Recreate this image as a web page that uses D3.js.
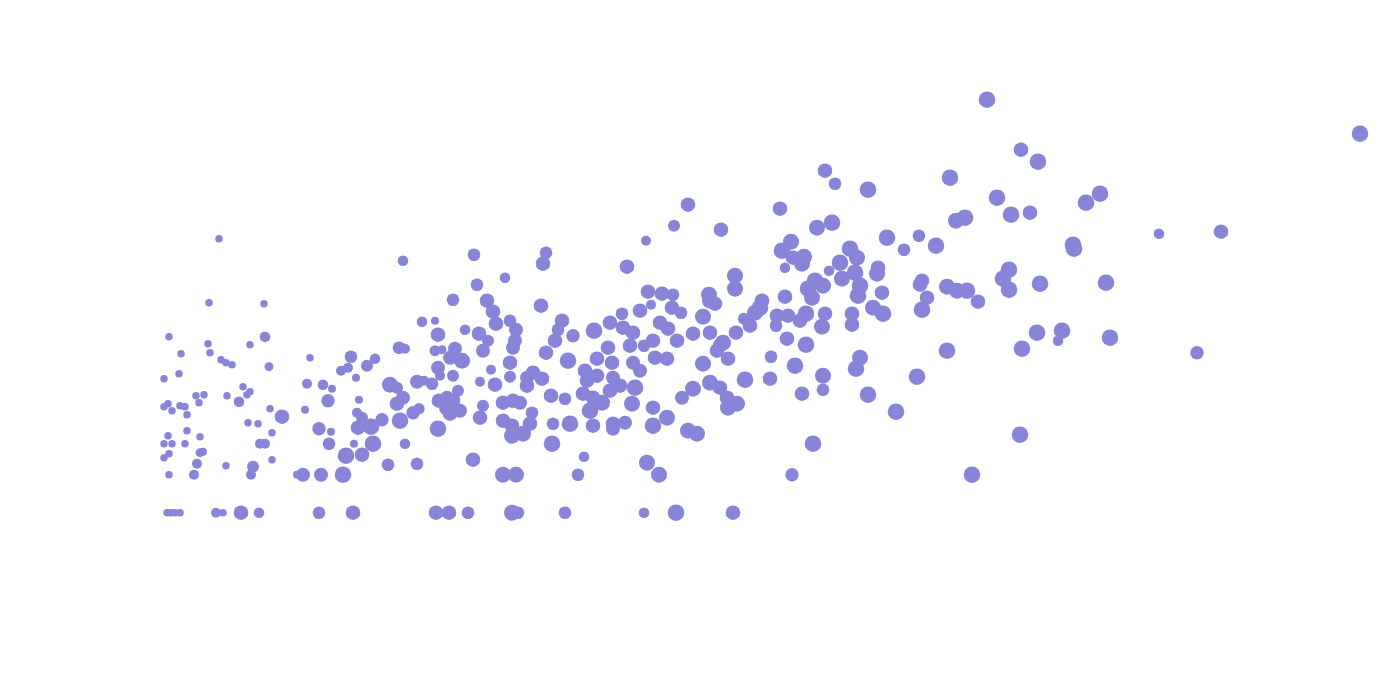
<!DOCTYPE html>
<html>
<head>
<meta charset="utf-8">
<script src="https://cdn.jsdelivr.net/npm/d3@7"></script>
<style>
html,body{margin:0;padding:0;background:#fff;}
svg{display:block;}
</style>
</head>
<body>
<svg id="chart" width="1400" height="700"></svg>
<script>
// Each point: [x value, y value, size value]
const groupA = [
[5.9,27.4,14],[4.9,21.0,14],[10.4,20.9,14],[0.9,17.6,14],[2.1,15.9,14],[4.8,16.9,14],[5.0,16.0,14],
[10.5,17.6,28],[9.0,16.8,14],[6.1,15.3,14],[6.6,15.0,14],[7.2,14.8,14],[10.9,14.6,20],[0.4,13.4,14],
[1.9,13.9,14],[3.6,11.7,14],[4.4,11.8,14],[3.9,11.0,14],[0.4,10.6,14],[0.8,10.9,14],[1.2,10.2,14],
[2.0,10.7,14],[2.5,10.6,14],[2.7,9.8,14],[6.7,11.7,14],[8.3,12.6,14],[9.0,12.1,14],[8.7,11.8,14],
[7.9,11.1,28],[11.0,10.4,14],[12.2,9.6,53],[8.8,9.0,14],[9.8,8.9,14],[11.2,8.0,14],[0.8,7.7,14],
[2.7,8.2,14],[4.0,7.6,14],[0.4,6.9,14],[1.2,6.9,14],[2.5,6.9,14],[10.0,6.9,25],[10.5,6.9,25],
[0.4,5.5,14],[0.9,5.9,14],[4.0,6.0,20],[4.3,6.1,16],[3.7,4.9,25],[6.6,4.7,14],[9.3,4.6,36],
[9.1,3.8,25],[11.2,5.3,14],[0.9,3.8,14],[3.4,3.8,25],[13.7,3.8,16],[14.3,3.8,49],
[0.7,0,14],[1.1,0,14],[1.5,0,14],[2.0,0,14],[5.6,0,25],[6.3,0,14],[8.1,0,53],[9.9,0,28]
];
const groupB = [
[15.0,15.5,14],[19.1,15.6,40],[18.8,14.5,25],[18.1,14.2,25],[20.7,14.7,36],[21.5,15.4,28],
[26.2,19.1,28],[27.5,19.2,16],[27.8,17.8,53],[23.9,16.5,40],[24.5,16.4,25],[27.5,16.2,30],
[28.2,16.3,20],[27.8,14.5,49],[24.3,25.2,28],[14.7,12.9,25],[16.3,12.8,28],[17.2,12.4,16],
[16.8,11.2,45],[14.5,10.3,16],[19.6,13.5,16],[19.9,11.3,16],[15.9,8.4,45],[17.1,8.1,16],
[16.9,6.9,40],[19.4,6.9,16],[18.6,5.7,69],[20.2,5.8,53],[21.3,6.9,69],[24.5,6.9,28],
[22.8,4.8,40],[25.7,4.9,40],[16.1,3.8,49],[18.3,3.8,69],[23.0,12.8,64],[23.7,12.5,36],
[25.7,13.1,49],[26.4,13.2,25],[27.2,12.9,40],[24.3,11.5,49],[23.7,10.9,53],[25.3,10.0,45],
[25.9,10.4,32],[24.0,9.2,69],[19.7,10.0,25],[20.2,9.5,36],[19.8,8.5,53],[21.1,8.6,69],
[22.2,9.3,45],[27.9,11.2,53],[28.7,10.5,64],[27.8,8.4,69],
[15.9,0,40],[19.3,0,53],[27.6,0,53],[28.9,0,53]
];
const groupC = [
[29.3,21.3,40],[31.4,25.8,40],[38.6,26.0,40],[38.3,24.9,53],[34.5,23.5,28],[31.7,22.8,40],
[32.7,21.2,53],[33.3,20.1,53],[33.6,18.9,53],[38.1,20.7,53],[35.0,19.2,40],[35.6,18.3,49],
[35.5,17.2,49],[35.3,16.5,49],[35.0,15.0,53],[30.5,18.3,28],[31.9,17.9,53],[32.8,17.2,36],
[32.3,16.2,49],[29.5,16.4,49],[30.2,15.2,64],[29.0,15.5,49],[29.3,13.7,36],[40.2,19.2,53],
[39.8,18.3,40],[39.5,17.2,53],[38.6,16.0,53],[41.3,17.7,45],[40.8,15.2,69],[33.1,14.3,25],
[37.3,14.0,53],[38.2,13.4,53],[36.7,13.5,49],[36.7,12.7,53],[35.0,13.6,36],[33.5,12.8,53],
[32.0,13.1,25],[28.0,13.7,25],[29.8,12.2,36],[28.7,11.5,49],[29.3,11.2,53],[29.0,9.9,53],
[30.0,10.2,49],[32.0,9.5,53],[32.3,10.7,36],[34.3,11.0,53],[35.3,11.2,53],[36.0,11.0,49],
[34.3,9.2,53],[35.2,8.7,53],[35.2,7.7,64],[36.3,7.9,64],[37.0,8.9,53],[37.2,10.0,40],
[39.1,11.7,53],[40.5,11.4,40],[39.3,8.9,40],[39.2,6.9,69],[31.3,5.3,53],[34.3,3.8,64],
[35.6,3.8,64],[42.4,5.6,28],[41.8,3.8,40],
[30.8,0,40],[35.2,0,64],[35.8,0,40],[40.5,0,40]
];
const groupD = [
[48.6,27.2,25],[51.4,28.7,36],[52.8,30.8,53],[46.7,24.6,53],[43.4,18.2,69],[45.0,19.0,53],
[46.2,19.9,40],[46.3,18.5,53],[47.3,18.0,53],[47.0,16.7,53],[44.8,16.5,53],[43.7,15.4,53],
[48.0,20.2,53],[48.8,22.1,53],[49.1,20.8,25],[50.2,21.9,53],[51.3,21.8,40],[51.2,20.5,53],
[52.1,20.0,40],[50.0,19.0,53],[50.8,18.4,53],[51.7,17.2,53],[49.3,17.2,53],[48.4,16.7,40],
[49.5,15.5,53],[50.7,15.4,53],[45.2,15.0,53],[47.3,15.0,49],[48.0,14.2,49],[42.5,14.2,53],
[43.7,13.7,53],[45.3,13.5,49],[42.7,13.2,53],[42.3,11.9,53],[43.3,11.5,53],[43.0,10.2,69],
[44.2,11.0,64],[45.0,12.2,53],[46.0,12.7,53],[47.5,12.5,69],[47.2,10.9,64],[43.3,8.7,53],
[41.0,8.9,69],[45.3,8.9,53],[46.5,9.0,49],[45.3,8.4,49],[49.3,10.5,53],[50.7,9.5,64],
[49.3,8.7,69],[52.2,11.5,49],[53.3,12.4,64],[52.8,8.2,64],[53.7,7.9,64],[48.7,5.0,64],
[49.9,3.8,64],[53.3,17.9,53],[54.3,14.9,64],
[48.4,0,28],[51.6,0,69],[57.3,0,53]
];
const groupE = [
[56.1,28.3,53],[54.3,19.6,64],[54.9,21.8,64],[55.0,21.2,64],[55.5,20.9,53],[57.5,23.7,64],
[57.5,22.4,64],[57.6,18.0,53],[56.0,16.7,53],[56.8,15.4,53],[55.0,18.0,53],[56.3,17.0,64],
[55.7,16.2,53],[55.0,13.0,64],[56.0,12.5,53],[56.7,11.5,53],[56.8,10.5,64],[57.7,10.9,64],
[62.0,30.4,53],[66.5,34.2,53],[67.5,32.9,40],[70.8,32.3,69],[65.7,28.5,64],[67.2,29.0,69],
[62.2,26.2,69],[63.1,27.1,64],[63.3,25.5,53],[64.4,25.6,64],[64.2,24.9,64],[62.5,24.5,28],
[69.0,26.4,69],[69.7,25.5,64],[68.0,25.0,69],[66.9,24.2,28],[68.2,23.4,64],[69.5,24.0,69],
[71.8,24.5,53],[71.7,23.9,64],[65.5,23.2,69],[66.3,22.7,64],[64.8,22.4,69],[65.2,21.5,64],
[62.5,21.6,53],[60.2,21.2,53],[70.0,22.7,69],[69.8,21.7,69],[72.2,22.0,53],[60.0,20.5,69],
[59.5,20.0,64],[58.4,19.4,36],[59.0,18.7,53],[61.7,19.7,53],[62.8,19.7,53],[61.6,18.7,40],
[64.0,19.2,53],[64.6,19.9,69],[66.5,19.9,53],[66.2,18.6,64],[69.2,19.9,53],[69.2,18.8,53],
[71.3,20.5,64],[72.3,19.9,69],[62.7,17.4,53],[64.6,16.8,69],[61.1,15.6,40],[63.5,14.7,69],
[70.0,15.5,64],[69.6,14.4,69],[66.3,13.7,64],[66.3,12.3,40],[58.5,13.3,69],[61.0,13.4,53],
[64.2,11.9,53],[70.8,11.8,69],[73.6,10.1,69],[65.3,6.9,69],[63.2,3.8,45],[72.7,27.5,69],
[74.4,26.3,40]
];
const groupF = [
[82.7,41.3,69],[79.0,33.5,69],[83.7,31.5,69],[85.1,29.8,69],[87.0,30.0,53],[79.6,29.2,64],
[80.5,29.5,69],[75.9,27.7,40],[77.6,26.7,69],[76.2,23.2,53],[76.0,22.8,53],[76.7,21.5,53],
[76.2,20.3,69],[78.7,22.6,64],[79.7,22.2,64],[80.7,22.2,69],[81.8,21.1,53],[84.9,24.3,69],
[84.3,23.4,69],[84.9,22.3,69],[78.7,16.2,69],[75.7,13.6,69],[81.2,3.8,69],[86.1,36.3,53],
[87.8,35.1,69],[92.6,31.0,69],[94.0,31.9,69],[91.3,26.8,69],[91.4,26.4,69],[99.9,27.9,28],
[106.1,28.1,53],[120.0,37.9,69],[88.0,22.9,69],[94.6,23.0,69],[87.7,18.0,69],[90.2,18.2,69],
[89.8,17.2,28],[86.2,16.4,69],[95.0,17.5,69],[103.7,16.0,45],[86.0,7.8,69]
];

const allPoints = [].concat(groupA, groupB, groupC, groupD, groupE, groupF);

const svg = d3.select("#chart");
const x = d3.scaleLinear().domain([0, 120]).range([160, 1360]);
const y = d3.scaleLinear().domain([0, 42]).range([512.7, 92.7]);
const r = d3.scaleSqrt().domain([0, 100]).range([0, 10]);

svg.append("g")
  .selectAll("circle")
  .data(allPoints)
  .join("circle")
  .attr("cx", d => x(d[0]))
  .attr("cy", d => y(d[1]))
  .attr("r", d => r(d[2]))
  .attr("fill", "#8884d8");
</script>
</body>
</html>
